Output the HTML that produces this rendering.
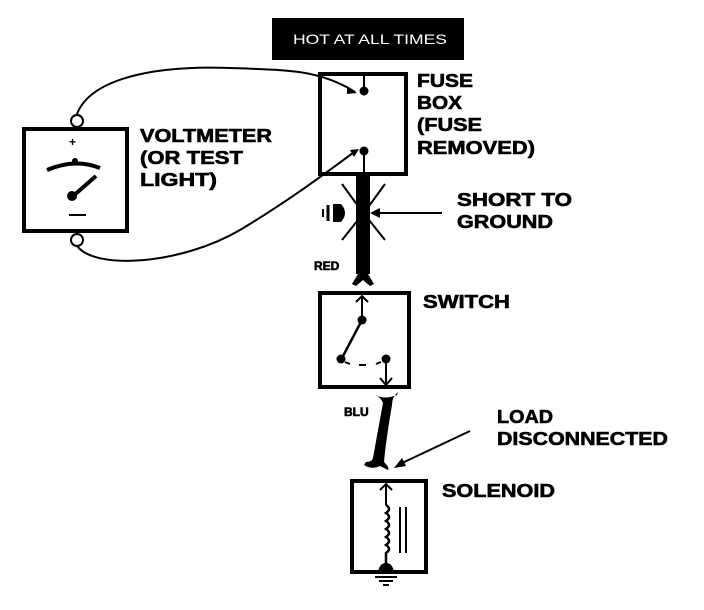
<!DOCTYPE html>
<html><head><style>
html,body{margin:0;padding:0;background:#fff;}
svg{display:block;}
text{font-family:"Liberation Sans",sans-serif;font-weight:bold;fill:#000;}
.b{stroke:#000;stroke-width:0.6;}
</style></head><body>
<svg width="704" height="610" viewBox="0 0 704 610" xmlns="http://www.w3.org/2000/svg">
<rect x="272" y="18" width="192" height="42" fill="#000"/>
<text x="293" y="44" font-size="14" textLength="154" lengthAdjust="spacingAndGlyphs" style="font-weight:normal;fill:#fff">HOT AT ALL TIMES</text>

<rect x="320" y="74" width="86" height="100" fill="none" stroke="#000" stroke-width="4"/>
<line x1="364" y1="75" x2="364" y2="90" stroke="#000" stroke-width="2"/>
<circle cx="364" cy="91" r="4.5" fill="#000"/>
<line x1="364" y1="152" x2="364" y2="173" stroke="#000" stroke-width="2"/>
<circle cx="364" cy="151" r="4.5" fill="#000"/>
<path d="M77 114 C 90 80, 150 65, 230 68 C 290 70, 320 70, 355 92" fill="none" stroke="#000" stroke-width="2"/>
<path d="M347 86 L357 93 L347 94 Z" fill="#000"/>
<path d="M77 246 C 95 270, 180 265, 240 230 C 290 200, 330 170, 357 150" fill="none" stroke="#000" stroke-width="2"/>
<path d="M350 150 L359 149 L354 157 Z" fill="#000"/>

<rect x="24" y="129" width="103" height="102" fill="none" stroke="#000" stroke-width="4"/>
<circle cx="77" cy="121" r="6" fill="#fff" stroke="#000" stroke-width="2"/>
<circle cx="77" cy="240" r="6" fill="#fff" stroke="#000" stroke-width="2"/>
<text x="69" y="146" font-size="12">+</text>
<path d="M47 170 Q 75 158 100 168" fill="none" stroke="#000" stroke-width="4"/>
<circle cx="75" cy="161" r="3" fill="#000"/>
<line x1="72" y1="197" x2="96" y2="176" stroke="#000" stroke-width="4"/>
<circle cx="72" cy="196" r="5" fill="#000"/>
<line x1="69" y1="215" x2="86" y2="215" stroke="#000" stroke-width="2"/>

<rect x="356" y="174" width="14" height="100" fill="#000"/>
<path d="M352 284 L358 274 L368 274 L374 284 L370 286 L363 280 L356 286 Z" fill="#000"/>
<g stroke="#000" stroke-width="2">
<line x1="342" y1="184" x2="358" y2="206"/><line x1="385" y1="184" x2="369" y2="206"/>
<line x1="342" y1="240" x2="358" y2="220"/><line x1="385" y1="240" x2="369" y2="220"/>
<line x1="374" y1="213" x2="442" y2="213"/>
</g>
<path d="M370 213 L380 208 L380 218 Z" fill="#000"/>
<path d="M333 204 L341 204 Q 349 213 341 222 L333 222 Z" fill="#000"/>
<line x1="328" y1="205" x2="328" y2="221" stroke="#000" stroke-width="3"/>
<line x1="323" y1="209" x2="323" y2="217" stroke="#000" stroke-width="2"/>
<text x="314" y="270" font-size="12" class="b">RED</text>

<rect x="320" y="293" width="89" height="94" fill="none" stroke="#000" stroke-width="4"/>
<line x1="362" y1="296" x2="362" y2="318" stroke="#000" stroke-width="2"/>
<path d="M356 302 L362 296 L368 302" fill="none" stroke="#000" stroke-width="2"/>
<circle cx="362" cy="320" r="4.5" fill="#000"/>
<line x1="362" y1="320" x2="342" y2="358" stroke="#000" stroke-width="2.5"/>
<circle cx="341" cy="359" r="4.5" fill="#000"/>
<line x1="345" y1="362" x2="350" y2="364" stroke="#000" stroke-width="2"/>
<line x1="359" y1="365" x2="366" y2="365" stroke="#000" stroke-width="2"/>
<circle cx="386" cy="359" r="4.5" fill="#000"/>
<line x1="381" y1="362" x2="376" y2="364" stroke="#000" stroke-width="2"/>
<line x1="386" y1="360" x2="386" y2="385" stroke="#000" stroke-width="2"/>
<path d="M380 378 L386 385 L392 378" fill="none" stroke="#000" stroke-width="2"/>

<path d="M376 395 Q 384 400 397 395 L398 392 Q 392 397 392 405 Q 386 440 384 462 Q 390 468 388 470 L380 466 Q 372 470 364 465 L366 462 Q 372 462 373 458 Q 378 430 383 403 Q 381 398 376 395 Z" fill="#000"/>
<text x="344" y="416" font-size="12" class="b">BLU</text>
<line x1="470" y1="431" x2="400" y2="464" stroke="#000" stroke-width="2"/>
<path d="M394 468 L402 458 L406 466 Z" fill="#000"/>

<rect x="352" y="481" width="74" height="91" fill="none" stroke="#000" stroke-width="4"/>
<line x1="386" y1="484" x2="386" y2="505" stroke="#000" stroke-width="2"/>
<path d="M380 490 L386 484 L392 490" fill="none" stroke="#000" stroke-width="2"/>
<path d="M386 505 q6 4 0 8 q6 4 0 8 q6 4 0 8 q6 4 0 8 q6 4 0 8 q6 4 0 8 L386 566" fill="none" stroke="#000" stroke-width="2.5"/>
<line x1="400" y1="507" x2="400" y2="553" stroke="#000" stroke-width="2"/>
<line x1="406" y1="507" x2="406" y2="553" stroke="#000" stroke-width="2"/>
<path d="M378 573 Q 379 563 386 563 Q 393 563 394 573 Z" fill="#000"/>
<line x1="375" y1="577" x2="397" y2="577" stroke="#000" stroke-width="2"/>
<line x1="379" y1="581" x2="393" y2="581" stroke="#000" stroke-width="2"/>
<line x1="383" y1="585" x2="389" y2="585" stroke="#000" stroke-width="2"/>

<g font-size="18" class="b" lengthAdjust="spacingAndGlyphs">
<text x="417" y="87" textLength="56" lengthAdjust="spacingAndGlyphs">FUSE</text>
<text x="417" y="109" textLength="45" lengthAdjust="spacingAndGlyphs">BOX</text>
<text x="417" y="131" textLength="65" lengthAdjust="spacingAndGlyphs">(FUSE</text>
<text x="417" y="154" textLength="118" lengthAdjust="spacingAndGlyphs">REMOVED)</text>
<text x="140" y="142" textLength="132" lengthAdjust="spacingAndGlyphs">VOLTMETER</text>
<text x="140" y="164" textLength="103" lengthAdjust="spacingAndGlyphs">(OR TEST</text>
<text x="140" y="186" textLength="77" lengthAdjust="spacingAndGlyphs">LIGHT)</text>
<text x="457" y="206" textLength="115" lengthAdjust="spacingAndGlyphs">SHORT TO</text>
<text x="457" y="228" textLength="96" lengthAdjust="spacingAndGlyphs">GROUND</text>
<text x="423" y="308" textLength="87" lengthAdjust="spacingAndGlyphs">SWITCH</text>
<text x="497" y="423" textLength="56" lengthAdjust="spacingAndGlyphs">LOAD</text>
<text x="497" y="445" textLength="171" lengthAdjust="spacingAndGlyphs">DISCONNECTED</text>
<text x="442" y="497" textLength="113" lengthAdjust="spacingAndGlyphs">SOLENOID</text>
</g>
</svg>
</body></html>
